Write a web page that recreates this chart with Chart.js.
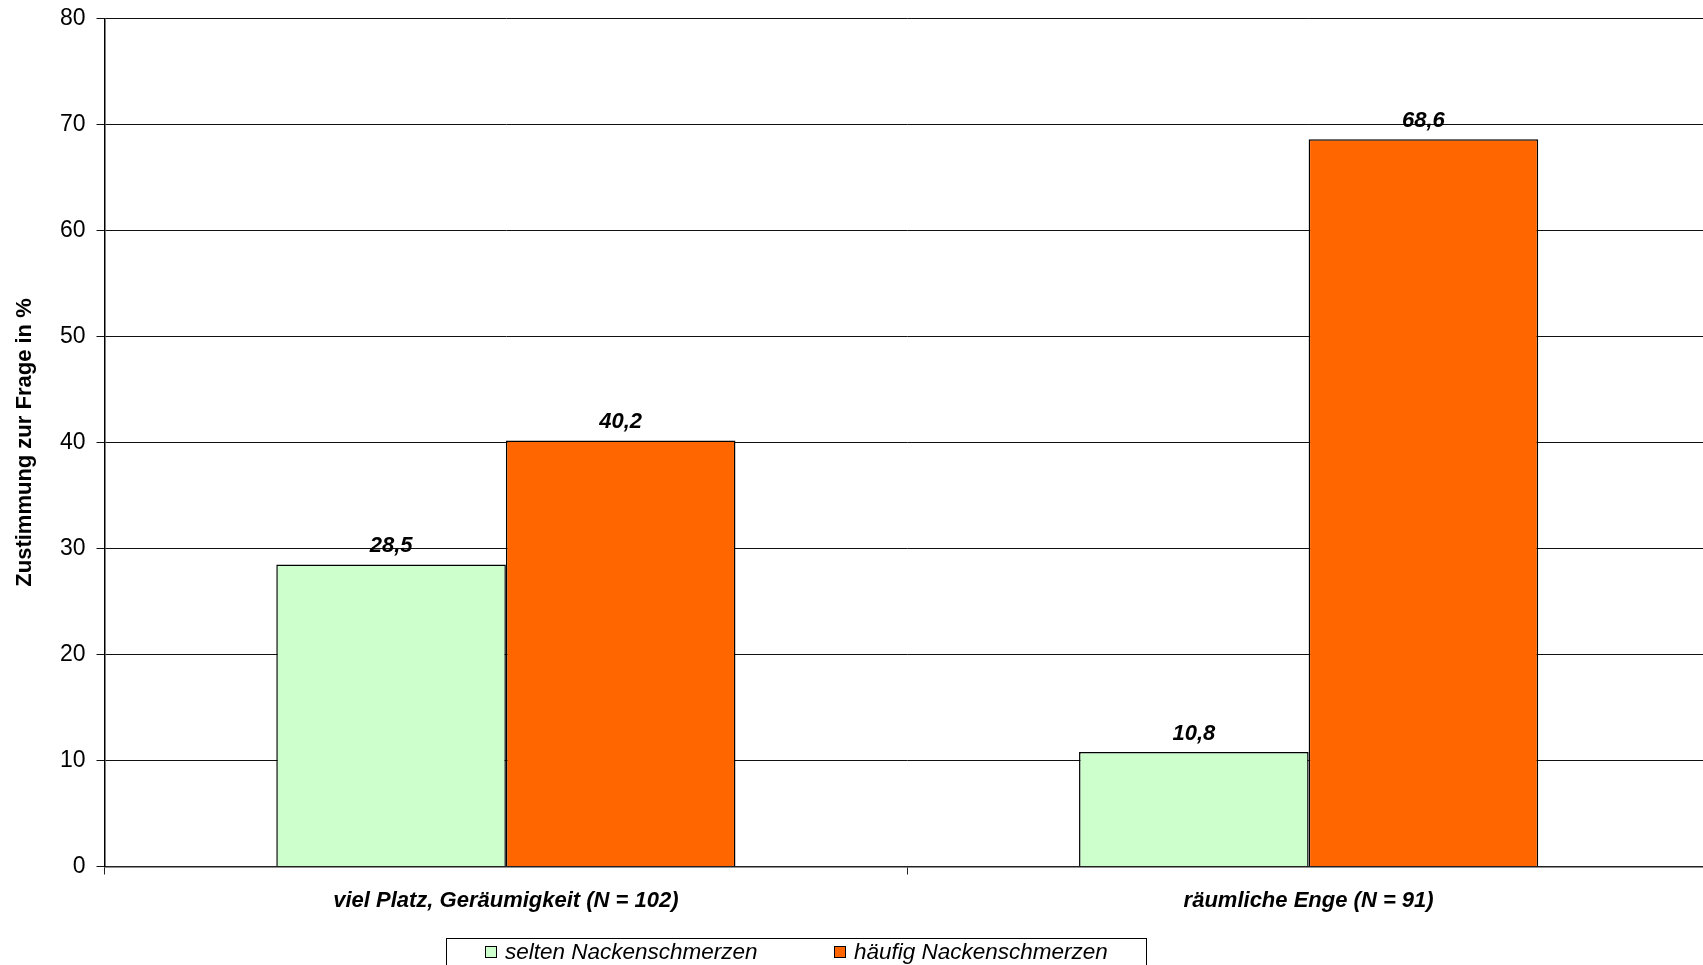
<!DOCTYPE html>
<html>
<head>
<meta charset="utf-8">
<script src="https://cdn.jsdelivr.net/npm/chart.js@4/dist/chart.umd.min.js"></script>
<style>
  html, body { margin: 0; padding: 0; background: #ffffff; overflow: hidden; }
  #wrap { position: relative; width: 1710px; height: 965px; }
</style>
</head>
<body>
<div id="wrap"><canvas id="chart" width="1710" height="965"></canvas></div>
<script>
// Categories and series
const categories = ['viel Platz, Geräumigkeit (N = 102)', 'räumliche Enge (N = 91)'];
const seltenValues = [28.5, 10.8];
const haeufigValues = [40.2, 68.6];
const seriesNames = ['selten Nackenschmerzen', 'häufig Nackenschmerzen'];
const yTicks = [0, 10, 20, 30, 40, 50, 60, 70, 80];

const FONT = '"Liberation Sans", Arial, Helvetica, sans-serif';

// Value labels above each bar, German decimal comma
const valueLabels = {
  id: 'valueLabels',
  afterDatasetsDraw(chart) {
    const ctx = chart.ctx;
    ctx.save();
    ctx.font = 'italic bold 22px ' + FONT;
    ctx.fillStyle = '#000000';
    ctx.textAlign = 'center';
    ctx.textBaseline = 'alphabetic';
    chart.data.datasets.forEach((ds, i) => {
      const meta = chart.getDatasetMeta(i);
      meta.data.forEach((bar, j) => {
        const v = ds.data[j];
        ctx.fillText(v.toFixed(1).replace('.', ','), bar.x, bar.y - 12);
      });
    });
    ctx.restore();
  }
};

// Boxed legend below the axis
const boxedLegend = {
  id: 'boxedLegend',
  afterDraw(chart) {
    const ctx = chart.ctx;
    const box = { left: 446.5, top: 938.5, right: 1146.5, bottom: 980 };
    const itemX = [485, 834];
    ctx.save();
    ctx.strokeStyle = '#000000';
    ctx.lineWidth = 1;
    ctx.strokeRect(box.left, box.top, box.right - box.left, box.bottom - box.top);
    ctx.font = 'italic 22.5px ' + FONT;
    ctx.textBaseline = 'middle';
    ctx.textAlign = 'left';
    chart.data.datasets.forEach((ds, i) => {
      const x = itemX[i];
      ctx.fillStyle = ds.backgroundColor;
      ctx.fillRect(x + 0.5, 946.5, 11, 11);
      ctx.strokeStyle = '#000000';
      ctx.strokeRect(x + 0.5, 946.5, 11, 11);
      ctx.fillStyle = '#000000';
      ctx.fillText(ds.label, x + 20, 953);
    });
    ctx.restore();
  }
};

new Chart(document.getElementById('chart'), {
  type: 'bar',
  data: {
    labels: categories,
    datasets: [
      {
        label: seriesNames[0],
        data: seltenValues,
        backgroundColor: '#CCFFCC',
        borderColor: '#000000',
        borderWidth: 1.5
      },
      {
        label: seriesNames[1],
        data: haeufigValues,
        backgroundColor: '#FF6600',
        borderColor: '#000000',
        borderWidth: 1.5
      }
    ]
  },
  options: {
    responsive: false,
    animation: false,
    devicePixelRatio: 1,
    layout: { padding: { top: 18.5, left: 0, right: 0, bottom: 0 } },
    plugins: {
      legend: { display: false },
      tooltip: { enabled: false }
    },
    datasets: {
      bar: { categoryPercentage: 0.572, barPercentage: 1.0 }
    },
    scales: {
      x: {
        offset: true,
        border: { display: true, color: '#222222', width: 1.5 },
        grid: {
          offset: true,
          drawOnChartArea: false,
          drawTicks: true,
          tickLength: 8,
          color: '#222222'
        },
        ticks: {
          color: '#000000',
          padding: 13,
          font: { family: FONT, size: 22, style: 'italic', weight: 'bold' },
          maxRotation: 0
        },
        afterFit(scale) {
          scale.height = 98.5;
          scale.paddingLeft = 0;
          scale.paddingRight = 0;
        }
      },
      y: {
        min: 0,
        max: 80,
        afterBuildTicks(scale) { scale.ticks = yTicks.map(v => ({ value: v })); },
        border: { display: true, color: '#000000', width: 1.5 },
        grid: {
          color: '#111111',
          lineWidth: 1,
          drawTicks: true,
          tickLength: 8
        },
        ticks: {
          color: '#000000',
          padding: 11,
          font: { family: FONT, size: 23 }
        },
        title: {
          display: true,
          text: 'Zustimmung zur Frage in %',
          color: '#000000',
          font: { family: FONT, size: 22, weight: 'bold' },
          padding: { top: 12, bottom: 0 }
        },
        afterFit(scale) {
          scale.width = 104.5;
          scale.paddingTop = 0;
          scale.paddingBottom = 0;
        }
      }
    }
  },
  plugins: [valueLabels, boxedLegend]
});
</script>
</body>
</html>
